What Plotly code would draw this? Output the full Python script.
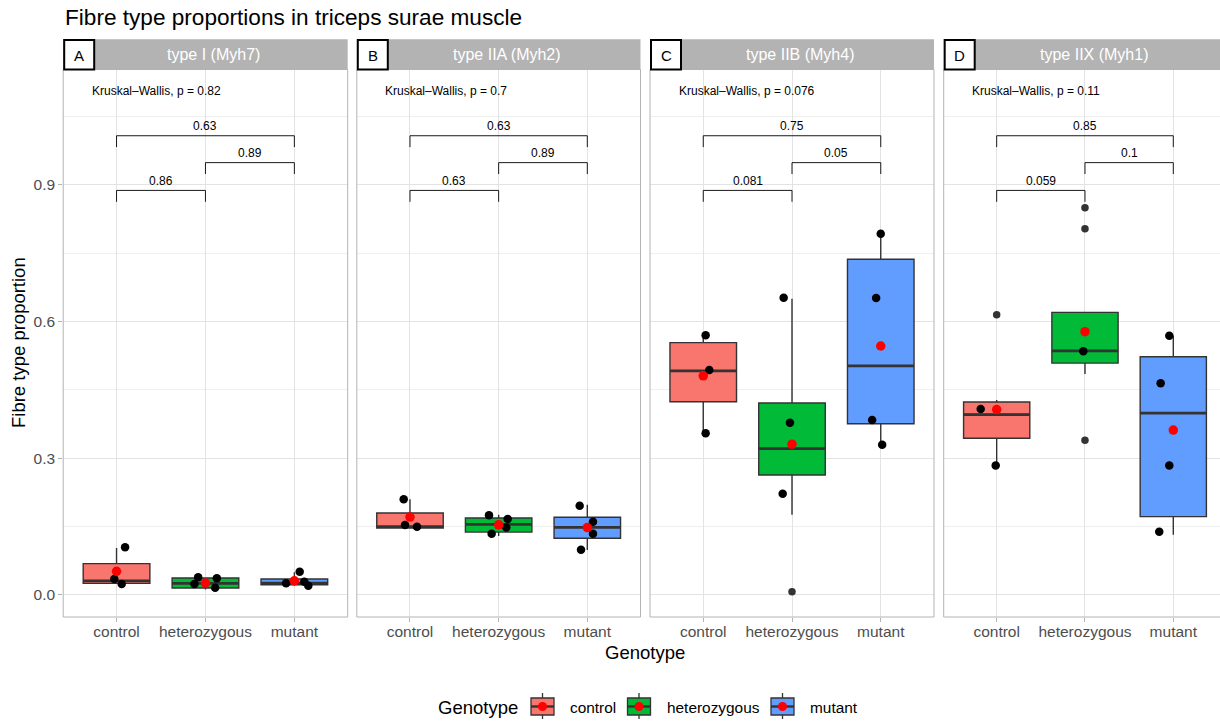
import plotly.graph_objects as go

W, H = 1220, 722
FONT = "Liberation Sans, Arial, Helvetica, sans-serif"

# ---------------- data ----------------
genotypes = ["control", "heterozygous", "mutant"]
geno_colors = ["#F8766D", "#00BA38", "#619CFF"]

panel_letters = ["A", "B", "C", "D"]
panel_titles = ["type I (Myh7)", "type IIA (Myh2)", "type IIB (Myh4)", "type IIX (Myh1)"]
kw_labels = ["Kruskal\u2013Wallis, p = 0.82", "Kruskal\u2013Wallis, p = 0.7",
             "Kruskal\u2013Wallis, p = 0.076", "Kruskal\u2013Wallis, p = 0.11"]
p_ctrl_het = ["0.86", "0.63", "0.081", "0.059"]
p_het_mut = ["0.89", "0.89", "0.05", "0.1"]
p_ctrl_mut = ["0.63", "0.63", "0.75", "0.85"]

# box statistics [panel][genotype]
box_q1 = [[0.0256, 0.0154, 0.0225], [0.147, 0.138, 0.1244],
          [0.424, 0.2634, 0.376], [0.344, 0.509, 0.172]]
box_median = [[0.031, 0.0256, 0.026], [0.150, 0.155, 0.1485],
              [0.492, 0.3212, 0.503], [0.396, 0.5356, 0.399]]
box_q3 = [[0.0688, 0.0373, 0.035], [0.180, 0.169, 0.1705],
          [0.554, 0.4214, 0.737], [0.4236, 0.6204, 0.523]]
box_lower = [[0.0256, 0.012, 0.0205], [0.147, 0.1295, 0.0988],
             [0.355, 0.176, 0.330], [0.284, 0.485, 0.132]]
box_upper = [[0.103, 0.039, 0.0498], [0.210, 0.176, 0.198],
             [0.570, 0.650, 0.793], [0.428, 0.6204, 0.569]]
group_mean = [[0.052, 0.0263, 0.031], [0.171, 0.154, 0.148],
              [0.481, 0.331, 0.5465], [0.407, 0.578, 0.362]]

# individual (jittered) observations [panel][genotype]
obs_values = [
    [[0.105, 0.035, 0.024], [0.039, 0.037, 0.024, 0.016], [0.051, 0.026, 0.029, 0.0205]],
    [[0.210, 0.1536, 0.150], [0.175, 0.167, 0.148, 0.1346], [0.196, 0.161, 0.1346, 0.0995]],
    [[0.570, 0.494, 0.355], [0.6526, 0.378, 0.222], [0.793, 0.652, 0.384, 0.330]],
    [[0.408, 0.284], [0.535], [0.569, 0.4646, 0.284, 0.139]],
]
obs_jitter = [
    [[0.096, -0.025, 0.058], [-0.082, 0.128, -0.124, 0.109], [0.06, -0.093, 0.112, 0.157]],
    [[-0.071, -0.056, 0.079], [-0.109, 0.102, 0.086, -0.079], [-0.086, 0.064, 0.064, -0.071]],
    [[0.027, 0.068, 0.027], [-0.094, -0.023, -0.105], [0.0, -0.052, -0.097, 0.016]],
    [[-0.181, -0.011], [-0.019], [-0.045, -0.143, -0.045, -0.159]],
]
# boxplot outliers [panel][genotype]
outliers = [
    [[], [], []],
    [[], [], []],
    [[], [0.007], []],
    [[0.615], [0.850, 0.804, 0.3395], []],
]

# ---------------- layout geometry ----------------
panel_px = [(63.2, 347.7), (356.8, 640.5), (650.0, 934.0), (943.7, 1220.0)]
x_ranges = [[0.4, 3.6], [0.4, 3.6], [0.4, 3.6], [0.4, 3.529]]
Y_RANGE = [-0.0483, 1.1534]
PLOT_TOP, PLOT_BOT = 69.5, 617.0
STRIP_TOP = 39.3
BOX_W = 0.75
# bracket levels (data units)
BR_LOW, BR_MID, BR_TOP = 0.888, 0.949, 1.008
BR_TICK = 0.025


def fx(px):
    return px / W


def fy(py):
    return 1 - py / H


def paper_text(text, px, py, size, color="black", xanchor="center", angle=0):
    return dict(text=text, x=fx(px), y=fy(py), xref="paper", yref="paper",
                xanchor=xanchor, yanchor="middle", showarrow=False, textangle=angle,
                font=dict(size=size, color=color, family=FONT))


fig = go.Figure()
shapes = []
annotations = []

for p in range(4):
    ax = "" if p == 0 else str(p + 1)
    xa, ya = "x" + ax, "y" + ax
    for g in range(3):
        pos = g + 1
        fig.add_trace(go.Box(
            x=[pos], q1=[box_q1[p][g]], median=[box_median[p][g]], q3=[box_q3[p][g]],
            lowerfence=[box_lower[p][g]], upperfence=[box_upper[p][g]],
            width=BOX_W, fillcolor=geno_colors[g], whiskerwidth=0,
            line=dict(color="#333333", width=1.4), boxpoints=False,
            xaxis=xa, yaxis=ya, showlegend=False, hoverinfo="skip"))
    # thicker median lines
    mx, my = [], []
    for g in range(3):
        pos = g + 1
        mx += [pos - BOX_W / 2, pos + BOX_W / 2, None]
        my += [box_median[p][g], box_median[p][g], None]
    fig.add_trace(go.Scatter(x=mx, y=my, mode="lines", line=dict(color="#333333", width=2.7),
                             xaxis=xa, yaxis=ya, showlegend=False, hoverinfo="skip"))
    # outliers
    ox, oy = [], []
    for g in range(3):
        for v in outliers[p][g]:
            ox.append(g + 1)
            oy.append(v)
    if ox:
        fig.add_trace(go.Scatter(x=ox, y=oy, mode="markers",
                                 marker=dict(color="#333333", size=7.5),
                                 xaxis=xa, yaxis=ya, showlegend=False, hoverinfo="skip"))
    # jittered observations
    jx, jy = [], []
    for g in range(3):
        for v, j in zip(obs_values[p][g], obs_jitter[p][g]):
            jx.append(g + 1 + j)
            jy.append(v)
    fig.add_trace(go.Scatter(x=jx, y=jy, mode="markers", marker=dict(color="black", size=8.5),
                             xaxis=xa, yaxis=ya, showlegend=False, hoverinfo="skip"))
    # means
    fig.add_trace(go.Scatter(x=[1, 2, 3], y=group_mean[p], mode="markers",
                             marker=dict(color="red", size=9.5),
                             xaxis=xa, yaxis=ya, showlegend=False, hoverinfo="skip"))
    # comparison brackets
    bx = [1, 1, 2, 2, None, 2, 2, 3, 3, None, 1, 1, 3, 3]
    by = [BR_LOW - BR_TICK, BR_LOW, BR_LOW, BR_LOW - BR_TICK, None,
          BR_MID - BR_TICK, BR_MID, BR_MID, BR_MID - BR_TICK, None,
          BR_TOP - BR_TICK, BR_TOP, BR_TOP, BR_TOP - BR_TICK]
    fig.add_trace(go.Scatter(x=bx, y=by, mode="lines", line=dict(color="black", width=0.9),
                             xaxis=xa, yaxis=ya, showlegend=False, hoverinfo="skip"))
    for txt, xx, yy in [(p_ctrl_het[p], 1.5, BR_LOW + 0.021),
                        (p_het_mut[p], 2.5, BR_MID + 0.021),
                        (p_ctrl_mut[p], 2.0, BR_TOP + 0.021)]:
        annotations.append(dict(text=txt, x=xx, y=yy, xref=xa, yref=ya, showarrow=False,
                                xanchor="center", yanchor="middle",
                                font=dict(size=12, color="black", family=FONT)))
    annotations.append(dict(text=kw_labels[p], x=0.7, y=1.106, xref=xa, yref=ya,
                            xanchor="left", yanchor="middle", showarrow=False,
                            font=dict(size=12, color="black", family=FONT)))

    # axes
    x0, x1 = panel_px[p]
    fig.update_layout(**{
        ("xaxis" + ax): dict(domain=[fx(x0), fx(x1)], range=x_ranges[p], anchor=ya,
                             tickvals=[1, 2, 3], ticktext=genotypes, ticks="outside",
                             ticklen=4, tickcolor="#b3b3b3", tickwidth=1,
                             ticklabelstandoff=-4,
                             tickfont=dict(size=15.5, color="#4d4d4d", family=FONT),
                             showgrid=True, gridcolor="#e3e3e3", gridwidth=1,
                             zeroline=False, showline=False, fixedrange=True),
        ("yaxis" + ax): dict(domain=[fy(PLOT_BOT), fy(PLOT_TOP)], range=Y_RANGE, anchor=xa,
                             tickvals=[0, 0.3, 0.6, 0.9], tickformat=".1f",
                             showticklabels=(p == 0), ticks="outside" if p == 0 else "",
                             ticklen=4, tickcolor="#b3b3b3", tickwidth=1,
                             tickfont=dict(size=15.5, color="#4d4d4d", family=FONT),
                             showgrid=True, gridcolor="#e3e3e3", gridwidth=1,
                             minor=dict(dtick=0.15, tick0=0, showgrid=True,
                                        gridcolor="#efefef", gridwidth=0.7),
                             zeroline=False, showline=False, fixedrange=True),
    })

    # panel border
    line = dict(color="#b3b3b3", width=1)
    shapes.append(dict(type="line", xref="paper", yref="paper", x0=fx(x0), x1=fx(x0),
                       y0=fy(PLOT_BOT), y1=fy(PLOT_TOP), line=line))
    shapes.append(dict(type="line", xref="paper", yref="paper", x0=fx(x0), x1=fx(x1),
                       y0=fy(PLOT_BOT), y1=fy(PLOT_BOT), line=line))
    shapes.append(dict(type="line", xref="paper", yref="paper", x0=fx(x0), x1=fx(x1),
                       y0=fy(PLOT_TOP), y1=fy(PLOT_TOP), line=line))
    if p < 3:
        shapes.append(dict(type="line", xref="paper", yref="paper", x0=fx(x1), x1=fx(x1),
                           y0=fy(PLOT_BOT), y1=fy(PLOT_TOP), line=line))
    # strip
    shapes.append(dict(type="rect", xref="paper", yref="paper", x0=fx(x0), x1=fx(x1),
                       y0=fy(PLOT_TOP), y1=fy(STRIP_TOP), fillcolor="#b3b3b3",
                       line=dict(width=0), layer="below"))
    annotations.append(paper_text(panel_titles[p], x0 + 284.5 / 2 + 8,
                                  (STRIP_TOP + PLOT_TOP) / 2, 16, color="white"))
    # letter tag
    shapes.append(dict(type="rect", xref="paper", yref="paper", x0=fx(x0 + 1), x1=fx(x0 + 31),
                       y0=fy(69.5), y1=fy(STRIP_TOP + 0.7), fillcolor="white",
                       line=dict(color="black", width=2)))
    annotations.append(paper_text(panel_letters[p], x0 + 16, 55, 15))

# titles
annotations.append(paper_text("Fibre type proportions in triceps surae muscle", 63, 18, 22.6,
                              xanchor="left"))
annotations.append(paper_text("Genotype", 645, 652, 18.5))
annotations.append(paper_text("Fibre type proportion", 18, 343, 18.5, angle=-90))

# manual legend
annotations.append(paper_text("Genotype", 436, 707, 18.5, xanchor="left"))
key_left = [531, 627.5, 771]
lab_left = [567.5, 664.5, 807.5]
for g in range(3):
    kx0, kx1 = key_left[g], key_left[g] + 23
    kc = (kx0 + kx1) / 2
    shapes.append(dict(type="line", xref="paper", yref="paper", x0=fx(kc), x1=fx(kc),
                       y0=fy(719), y1=fy(693), line=dict(color="#333333", width=1.3)))
    shapes.append(dict(type="rect", xref="paper", yref="paper", x0=fx(kx0), x1=fx(kx1),
                       y0=fy(715), y1=fy(698), fillcolor=geno_colors[g],
                       line=dict(color="#333333", width=1.3)))
    shapes.append(dict(type="line", xref="paper", yref="paper", x0=fx(kx0), x1=fx(kx1),
                       y0=fy(706.5), y1=fy(706.5), line=dict(color="#333333", width=2.4)))
    shapes.append(dict(type="circle", xref="paper", yref="paper", x0=fx(kc - 4.5),
                       x1=fx(kc + 4.5), y0=fy(711), y1=fy(702), fillcolor="red",
                       line=dict(width=0)))
    annotations.append(paper_text(genotypes[g], lab_left[g], 707, 15.4, xanchor="left"))

fig.update_layout(width=W, height=H, autosize=False, margin=dict(l=0, r=0, t=0, b=0),
                  paper_bgcolor="white", plot_bgcolor="white", showlegend=False,
                  shapes=shapes, annotations=annotations, font=dict(family=FONT))

fig.write_html("out.html", config={"displayModeBar": False})
